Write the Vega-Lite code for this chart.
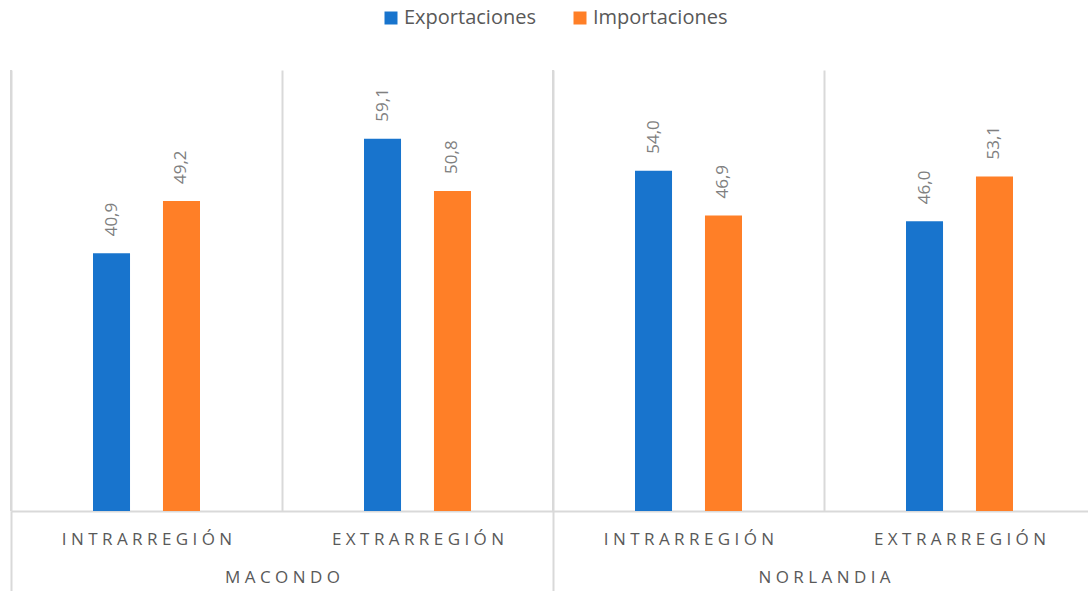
{
  "$schema": "https://vega.github.io/schema/vega-lite/v6.json",
  "autosize": {"type": "none"},
  "width": 1077,
  "height": 441,
  "padding": {"left": 11, "top": 70, "right": 0, "bottom": 80},
  "config": {
    "view": {"stroke": null},
    "font": "Open Sans",
    "locale": {"number": {"decimal": ",", "thousands": ".", "grouping": [3], "currency": ["", " €"]}}
  },
  "datasets": {
    "valores": [
      {"pais": "MACONDO", "region": "INTRARREGIÓN", "grupo": "MACONDO/INTRARREGIÓN", "serie": "Exportaciones", "valor": 40.9},
      {"pais": "MACONDO", "region": "INTRARREGIÓN", "grupo": "MACONDO/INTRARREGIÓN", "serie": "Importaciones", "valor": 49.2},
      {"pais": "MACONDO", "region": "EXTRARREGIÓN", "grupo": "MACONDO/EXTRARREGIÓN", "serie": "Exportaciones", "valor": 59.1},
      {"pais": "MACONDO", "region": "EXTRARREGIÓN", "grupo": "MACONDO/EXTRARREGIÓN", "serie": "Importaciones", "valor": 50.8},
      {"pais": "NORLANDIA", "region": "INTRARREGIÓN", "grupo": "NORLANDIA/INTRARREGIÓN", "serie": "Exportaciones", "valor": 54.0},
      {"pais": "NORLANDIA", "region": "INTRARREGIÓN", "grupo": "NORLANDIA/INTRARREGIÓN", "serie": "Importaciones", "valor": 46.9},
      {"pais": "NORLANDIA", "region": "EXTRARREGIÓN", "grupo": "NORLANDIA/EXTRARREGIÓN", "serie": "Exportaciones", "valor": 46.0},
      {"pais": "NORLANDIA", "region": "EXTRARREGIÓN", "grupo": "NORLANDIA/EXTRARREGIÓN", "serie": "Importaciones", "valor": 53.1}
    ],
    "paises": [
      {"pais": "MACONDO"},
      {"pais": "NORLANDIA"}
    ]
  },
  "resolve": {"scale": {"x": "independent"}, "axis": {"x": "independent"}},
  "layer": [
    {
      "data": {"name": "valores"},
      "encoding": {
        "x": {
          "field": "grupo",
          "type": "nominal",
          "sort": ["MACONDO/INTRARREGIÓN", "MACONDO/EXTRARREGIÓN", "NORLANDIA/INTRARREGIÓN", "NORLANDIA/EXTRARREGIÓN"],
          "scale": {"range": [0, 1084], "paddingInner": 0, "paddingOuter": 0},
          "axis": {
            "orient": "bottom",
            "title": null,
            "labelAngle": 0,
            "labelExpr": "isString(datum.value) ? join(split(split(datum.value, '/')[1], ''), ' ') : ''",
            "labelFont": "Open Sans",
            "labelFontSize": 17,
            "labelColor": "#595959",
            "labelPadding": 20,
            "ticks": false,
            "tickBand": "extent",
            "domain": true,
            "domainColor": "#d9d9d9",
            "domainWidth": 2,
            "grid": true,
            "gridColor": "#d9d9d9",
            "gridWidth": 2
          }
        },
        "xOffset": {
          "field": "serie",
          "type": "nominal",
          "scale": {"domain": ["Exportaciones", "Importaciones"], "range": [82, 189], "paddingInner": 0.471, "paddingOuter": 0}
        },
        "y": {
          "field": "valor",
          "type": "quantitative",
          "scale": {"domain": [0, 70], "nice": false},
          "axis": null
        }
      },
      "layer": [
        {
          "mark": {"type": "bar"},
          "encoding": {
            "color": {
              "field": "serie",
              "type": "nominal",
              "scale": {"domain": ["Exportaciones", "Importaciones"], "range": ["#1874CD", "#FF7F27"]},
              "legend": {
                "orient": "none",
                "legendX": 370,
                "legendY": -62,
                "direction": "horizontal",
                "title": null,
                "symbolType": "square",
                "symbolSize": 169,
                "symbolStrokeWidth": 0,
                "labelFont": "Open Sans",
                "labelFontSize": 20,
                "labelColor": "#595959",
                "labelOffset": 3,
                "columnPadding": 34,
                "padding": 0
              }
            }
          }
        },
        {
          "mark": {"type": "text", "angle": -90, "align": "left", "baseline": "middle", "dx": 17, "font": "Open Sans", "fontSize": 17, "fill": "#808080"},
          "encoding": {
            "text": {"field": "valor", "type": "quantitative", "format": ".1f"}
          }
        }
      ]
    },
    {
      "data": {"name": "paises"},
      "mark": {"type": "rule", "color": "#d9d9d9", "strokeWidth": 2},
      "encoding": {
        "x": {
          "field": "pais",
          "type": "nominal",
          "bandPosition": 0,
          "scale": {"domain": ["MACONDO", "NORLANDIA"], "range": [0, 1084], "paddingInner": 0, "paddingOuter": 0},
          "axis": {
            "orient": "bottom",
            "title": null,
            "labelAngle": 0,
            "labelExpr": "isString(datum.value) ? join(split(datum.value, ''), ' ') : ''",
            "labelFont": "Open Sans",
            "labelFontSize": 17,
            "labelColor": "#595959",
            "labelPadding": -22,
            "ticks": true,
            "tickBand": "extent",
            "tickSize": 80,
            "tickColor": "#d9d9d9",
            "tickWidth": 2,
            "domain": false,
            "grid": false
          }
        }
      }
    }
  ]
}
